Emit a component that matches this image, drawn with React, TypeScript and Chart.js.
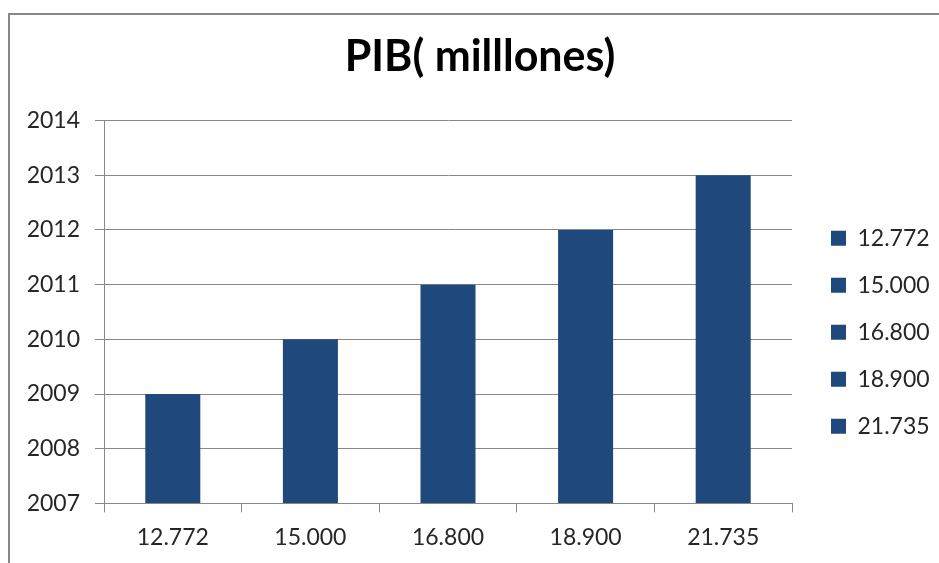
import React, { useEffect, useRef } from "react";
import { Chart, registerables } from "chart.js";

Chart.register(...registerables);

const categories = ["12.772", "15.000", "16.800", "18.900", "21.735"];
const years = [2009, 2010, 2011, 2012, 2013];
const yMin = 2007;
const yMax = 2014;
const titleText = "PIB( milllones)";
const barColor = "#1F497D";
const FONT = "Lato, 'Open Sans', sans-serif";

const LEGEND_W = 141;
const LEGEND_SHIFT = 15;

const framePlugin = {
  id: "frame",
  beforeDraw(chart: any) {
    const ctx = chart.ctx;
    ctx.save();
    ctx.fillStyle = "#ffffff";
    ctx.fillRect(0, 0, chart.width, chart.height);
    ctx.strokeStyle = "#878787";
    ctx.lineWidth = 2;
    ctx.strokeRect(9, 14, chart.width + 50, chart.height + 50);
    ctx.restore();
  },
};

const legendFitPlugin = {
  id: "legendFit",
  beforeLayout(chart: any) {
    const lg = chart.legend;
    if (lg && !lg.__patched) {
      const orig = lg.fit.bind(lg);
      lg.fit = function () {
        orig();
        this.width = LEGEND_W;
      };
      lg.__patched = true;
    }
  },
  afterLayout(chart: any) {
    const lg = chart.legend;
    if (lg) {
      lg.left += LEGEND_SHIFT;
      lg.right += LEGEND_SHIFT;
    }
  },
};

export default function App() {
  const ref = useRef<HTMLCanvasElement>(null);
  useEffect(() => {
    const chart = new Chart(ref.current!, {
      type: "bar",
      data: {
        labels: categories,
        datasets: [
          {
            label: "PIB",
            data: years,
            base: yMin,
            backgroundColor: barColor,
            barPercentage: 0.4,
            categoryPercentage: 1,
          } as any,
        ],
      },
      plugins: [framePlugin, legendFitPlugin],
      options: {
        responsive: false,
        animation: false,
        layout: { padding: { left: 27, right: 6, top: 0, bottom: 1 } },
        plugins: {
          tooltip: { enabled: false },
          title: {
            display: true,
            text: titleText,
            color: "#000000",
            font: { family: FONT, size: 43, weight: "bold" },
            padding: { top: 31, bottom: 38 },
          },
          legend: {
            position: "right",
            fullSize: false,
            title: { display: true, text: " ", font: { size: 12 }, padding: { top: 0, bottom: 26 } },
            labels: {
              color: "#262626",
              font: { family: FONT, size: 23 },
              boxWidth: 15,
              boxHeight: 15,
              padding: 24,
              generateLabels: () =>
                categories.map((c) => ({
                  text: c,
                  fillStyle: barColor,
                  strokeStyle: barColor,
                  fontColor: "#262626",
                  lineWidth: 0,
                  hidden: false,
                  datasetIndex: 0,
                })),
            },
          },
        },
        scales: {
          x: {
            offset: true,
            grid: {
              offset: true,
              drawOnChartArea: false,
              drawTicks: true,
              tickLength: 9,
              color: "#888888",
            },
            border: { color: "#888888", width: 1 },
            ticks: {
              color: "#262626",
              font: { family: FONT, size: 23 },
              padding: 11,
            },
          },
          y: {
            min: yMin,
            max: yMax,
            afterFit: (scale: any) => {
              scale.width = 77;
            },
            grid: { color: "#888888", tickLength: 9 },
            border: { color: "#888888", width: 1 },
            ticks: {
              stepSize: 1,
              color: "#262626",
              font: { family: FONT, size: 23 },
              padding: 15,
              callback: (v: any) => String(v),
            },
          },
        },
      },
    });
    return () => chart.destroy();
  }, []);
  return (
    <div style={{ position: "absolute", left: 0, top: 0, width: 939, height: 563 }}>
      <canvas ref={ref} width={939} height={563} />
    </div>
  );
}
